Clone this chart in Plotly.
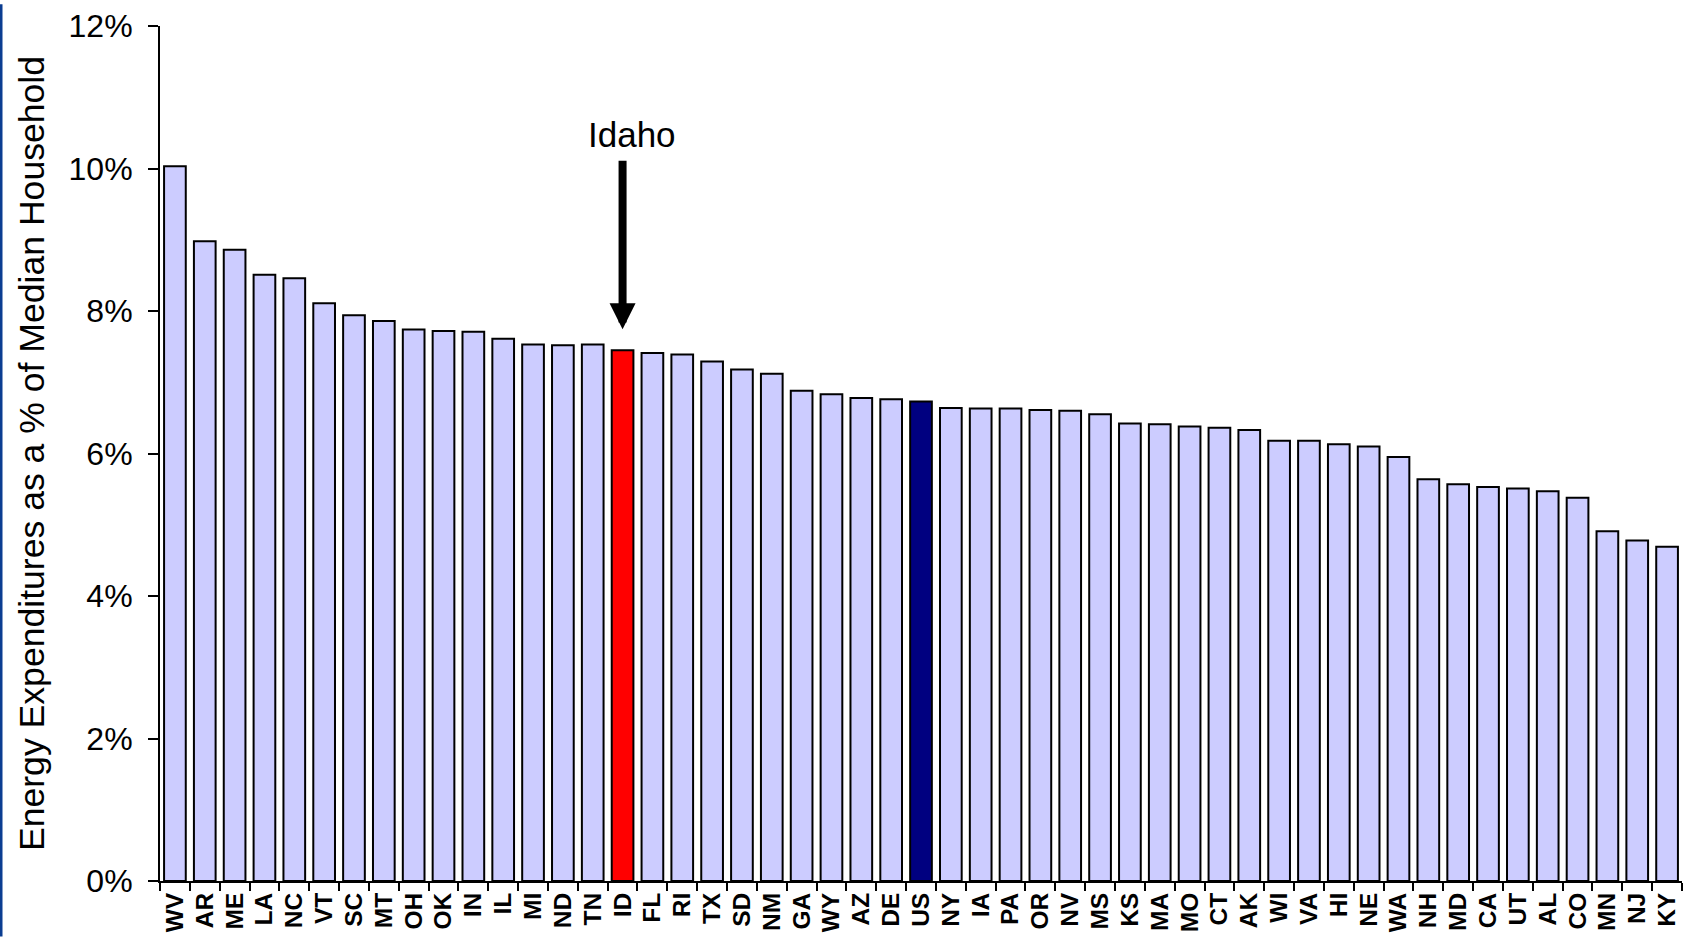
import plotly.graph_objects as go

# Household energy spending as a share of median household income, by state
states = ["WV", "AR", "ME", "LA", "NC", "VT", "SC", "MT", "OH", "OK", "IN", "IL", "MI",
          "ND", "TN", "ID", "FL", "RI", "TX", "SD", "NM", "GA", "WY", "AZ", "DE", "US",
          "NY", "IA", "PA", "OR", "NV", "MS", "KS", "MA", "MO", "CT", "AK", "WI", "VA",
          "HI", "NE", "WA", "NH", "MD", "CA", "UT", "AL", "CO", "MN", "NJ", "KY"]
share_pct = [10.03, 8.98, 8.86, 8.51, 8.46, 8.11, 7.94, 7.86, 7.74, 7.72, 7.71, 7.61, 7.53,
             7.52, 7.53, 7.45, 7.41, 7.39, 7.29, 7.18, 7.12, 6.88, 6.83, 6.78, 6.76, 6.73,
             6.64, 6.63, 6.63, 6.61, 6.60, 6.55, 6.42, 6.41, 6.38, 6.36, 6.33, 6.18, 6.18,
             6.13, 6.10, 5.95, 5.64, 5.57, 5.53, 5.51, 5.47, 5.38, 4.91, 4.78, 4.69]
y_ticks = [0, 2, 4, 6, 8, 10, 12]

highlight = "ID"
national = "US"

BASE = "#CCCCFF"
colors = []
for s in states:
    if s == highlight:
        colors.append("#FF0000")
    elif s == national:
        colors.append("#000080")
    else:
        colors.append(BASE)

W, H = 1690, 940
M_L, M_R, M_T, M_B = 160, 8, 22, 56
FONT = "Liberation Sans, Arial, sans-serif"

fig = go.Figure(go.Bar(
    x=states,
    y=share_pct,
    marker=dict(color=colors, line=dict(color="black", width=2)),
    hoverinfo="x+y",
))

id_val = share_pct[states.index(highlight)]

# Arrow pointing at the highlighted state
fig.add_annotation(
    x=highlight, y=id_val, xref="x", yref="y",
    text="", showarrow=True,
    ax=0, ay=-191, axref="pixel", ayref="pixel",
    arrowhead=2, arrowsize=0.65, arrowwidth=8, arrowcolor="black",
    standoff=21,
)
fig.add_annotation(
    x=highlight, y=id_val, xref="x", yref="y",
    text="Idaho", showarrow=False,
    xshift=9, yshift=216,
    font=dict(family=FONT, size=35, color="black"),
)

# Thin blue strip along the left edge of the slide
pw = W - M_L - M_R
ph = H - M_T - M_B
fig.add_shape(
    type="rect", xref="paper", yref="paper",
    x0=-M_L / pw, x1=(-M_L + 2.5) / pw,
    y0=-M_B / ph, y1=1 + M_T / ph,
    fillcolor="#0B3D91", line=dict(width=0), layer="above",
)

fig.update_layout(
    width=W, height=H,
    margin=dict(l=M_L, r=M_R, t=M_T, b=M_B),
    paper_bgcolor="white", plot_bgcolor="white",
    bargap=0.273,
    showlegend=False,
    font=dict(family=FONT, color="black"),
)

fig.update_xaxes(
    type="category",
    showline=True, linecolor="black", linewidth=2,
    ticks="outside", tickson="boundaries", ticklen=8, tickwidth=2, tickcolor="black",
    tickangle=-90,
    tickfont=dict(family=FONT, size=24.5, color="black", weight="bold"),
    showgrid=False, zeroline=False,
)

fig.update_yaxes(
    range=[0, 12],
    tickvals=y_ticks,
    ticktext=[f"{v}%" for v in y_ticks],
    showline=True, linecolor="black", linewidth=2,
    ticks="outside", ticklen=10, tickwidth=2, tickcolor="black",
    ticklabelstandoff=9,
    tickfont=dict(family=FONT, size=32, color="black"),
    title=dict(
        text="Energy Expenditures as a % of Median Household",
        font=dict(family=FONT, size=35.6, color="black"),
        standoff=13,
    ),
    showgrid=False, zeroline=False,
)

fig.write_html("out.html")
